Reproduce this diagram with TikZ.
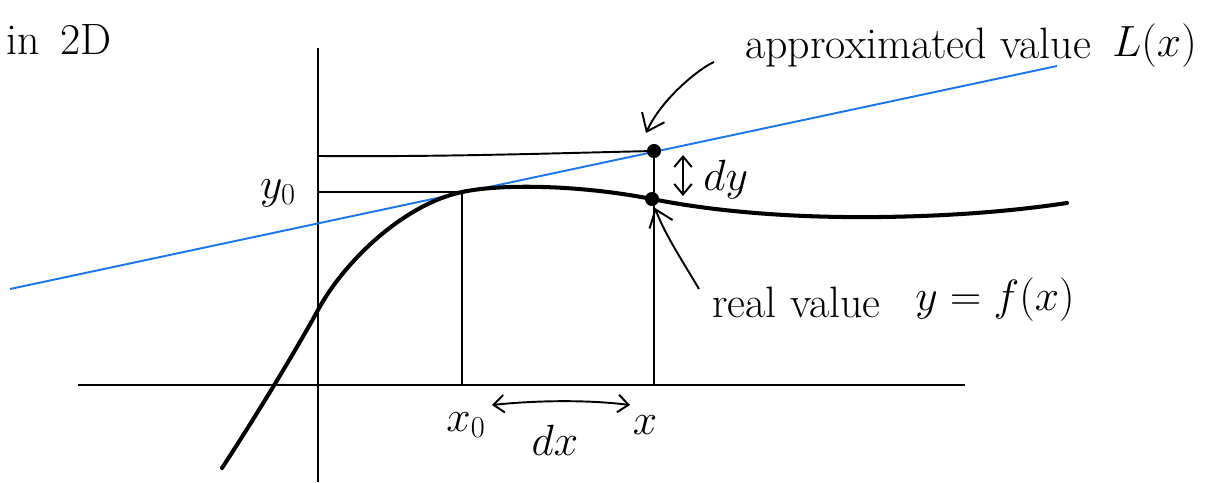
\documentclass[tikz,border=0pt]{standalone}
\usetikzlibrary{arrows.meta}
\definecolor{tanblue}{RGB}{25,118,235}
\begin{document}
\begin{tikzpicture}[x=0.02cm,y=-0.02cm,
  thin line/.style={line width=1.1pt,black},
  curve line/.style={line width=2.3pt,black,line cap=round},
  tangent/.style={line width=1.1pt,tanblue},
  lbl/.style={font=\fontsize{25}{30}\selectfont,inner sep=0pt},
  pointer/.style={line width=1.1pt,-{Straight Barb[length=9pt,width=14pt]}},
  dbl/.style={line width=1.1pt,{Straight Barb[length=6pt,width=10pt]}-{Straight Barb[length=6pt,width=10pt]}},
  dot/.style={circle,fill=black,inner sep=0pt,minimum size=8pt}]
\useasboundingbox (0,0) rectangle (1220,483);
% axes
\coordinate (yaTop) at (318,48);
\coordinate (yaBot) at (318,482);
\coordinate (xaL) at (78,385);
\coordinate (xaR) at (965,385);
\draw[thin line] (yaTop) -- (yaBot);
\draw[thin line] (xaL) -- (xaR);
% tangent line
\coordinate (tA) at (10,289);
\coordinate (tB) at (1057,66);
\draw[tangent] (tA) -- (tB);
% guide lines
\coordinate (P0) at (462,192);
\coordinate (P0y) at (318,192);
\coordinate (P0x) at (462,385);
\coordinate (Ly) at (318,156);
\coordinate (Xx) at (654,385);
\node[dot] (L) at (654,151) {};
\node[dot] (F) at (652,199) {};
\draw[thin line] (P0y) -- (P0) -- (P0x);
\draw[thin line] (Ly) .. controls (450,157) and (560,153) .. (L.center);
\draw[thin line] (L.center) -- (Xx);
% curve f
\draw[curve line] (222,468) .. controls (260,410) and (300,343) .. (318,310)
  .. controls (345,260) and (405,204) .. (P0)
  .. controls (502,183.5) and (580,185) .. (652,199)
  .. controls (720,212.6) and (800,218) .. (880,217)
  .. controls (960,216) and (1020,210) .. (1067,203);
% labels
\node[lbl,anchor=west] (in2d) at (6,40) {in \,2D};
\node[lbl] (y0) at (278,193) {$y_0$};
\node[lbl] (x0) at (466,425) {$x_0$};
\node[lbl] (xl) at (645,425) {$x$};
\node[lbl] (dx) at (555,440) {$dx$};
\node[lbl,anchor=west] (dy) at (703,180) {$dy$};
\node[lbl,anchor=west] (approx) at (745,48) {approximated value};
\node[lbl,anchor=west] (Lx) at (1112,46) {$L(x)$};
\node[lbl,anchor=west] (real) at (712,302) {real value};
\node[lbl,anchor=west] (fx) at (915,300) {$y=f(x)$};
% arrows
\coordinate (dxL) at (492,405);
\coordinate (dxR) at (630,405);
\draw[dbl] (dxL) .. controls (540,400) and (590,400) .. (dxR);
\coordinate (dyT) at (683,155);
\coordinate (dyB) at (683,196);
\draw[dbl] (dyT) -- (dyB);
\coordinate (apS) at (714,62);
\coordinate (apE) at (646,133);
\draw[pointer] (apS) .. controls (700,68) and (662,98) .. (apE);
\coordinate (rvS) at (699,289);
\coordinate (rvE) at (655,208);
\draw[pointer] (rvS) .. controls (685,265) and (665,235) .. (rvE);
\end{tikzpicture}
\end{document}
